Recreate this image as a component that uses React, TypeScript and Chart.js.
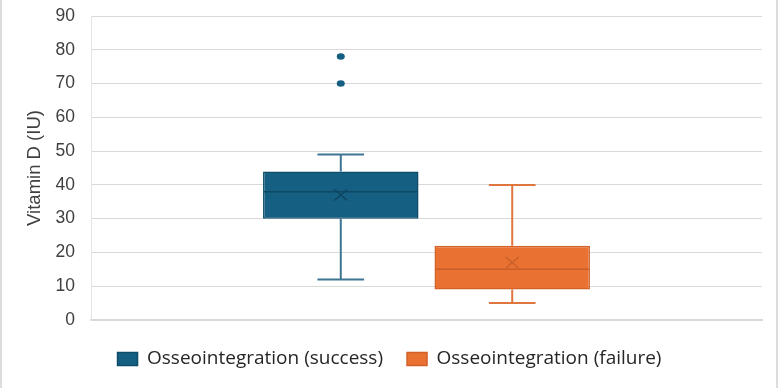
import React, { useEffect, useRef } from "react";
import { Chart, registerables } from "chart.js";

Chart.register(...registerables);

// ---- data ----
const categories = [""];
const seriesNames = ["Osseointegration (success)", "Osseointegration (failure)"];
const q1Values = [30, 9];
const q3Values = [44, 22];
const medianValues = [38, 15];
const meanValues = [37, 17];
const minValues = [12, 5];
const maxValues = [49, 40];
const outlierValues: number[][] = [[70, 78], []];
const yMin = 0;
const yMax = 90;
const yStep = 10;
const yTitle = "Vitamin D (IU)";

// ---- styles ----
const fillColors = ["#156082", "#E97132"];
const borderColors = ["#0f4c6a", "#d2622a"];
const whiskerColors = ["#3e7593", "#e0763f"];
const medianColors = ["#0e4863", "#c95e28"];
const meanColors = ["#0e4560", "#cc612b"];

const boxPlotPlugin = {
  id: "boxWhiskers",
  afterDatasetsDraw(chart: any) {
    const ctx = chart.ctx;
    const y = chart.scales.y;
    chart.data.datasets.forEach((_ds: any, i: number) => {
      const meta = chart.getDatasetMeta(i);
      const bar = meta.data[0];
      if (!bar) return;
      const { x, width } = bar.getProps(["x", "width"], true);
      const half = width / 2;
      const capHalf = width * 0.15;
      const pMax = y.getPixelForValue(maxValues[i]);
      const pMin = y.getPixelForValue(minValues[i]);
      const pQ1 = y.getPixelForValue(q1Values[i]);
      const pQ3 = y.getPixelForValue(q3Values[i]);
      const pMed = y.getPixelForValue(medianValues[i]);
      const pMean = y.getPixelForValue(meanValues[i]);
      ctx.save();
      // whiskers
      ctx.strokeStyle = whiskerColors[i];
      ctx.lineWidth = 2;
      ctx.beginPath();
      ctx.moveTo(x, pQ3);
      ctx.lineTo(x, pMax);
      ctx.moveTo(x, pQ1);
      ctx.lineTo(x, pMin);
      ctx.moveTo(x - capHalf, pMax);
      ctx.lineTo(x + capHalf, pMax);
      ctx.moveTo(x - capHalf, pMin);
      ctx.lineTo(x + capHalf, pMin);
      ctx.stroke();
      // median
      ctx.strokeStyle = medianColors[i];
      ctx.lineWidth = 1.5;
      ctx.beginPath();
      ctx.moveTo(x - half + 1, pMed);
      ctx.lineTo(x + half - 1, pMed);
      ctx.stroke();
      // mean marker (x)
      ctx.strokeStyle = meanColors[i];
      ctx.lineWidth = 1.5;
      const mx = 6.5;
      const my = 5.5;
      ctx.beginPath();
      ctx.moveTo(x - mx, pMean - my);
      ctx.lineTo(x + mx, pMean + my);
      ctx.moveTo(x + mx, pMean - my);
      ctx.lineTo(x - mx, pMean + my);
      ctx.stroke();
      // outliers
      ctx.fillStyle = fillColors[i];
      outlierValues[i].forEach((v) => {
        ctx.beginPath();
        ctx.ellipse(x, y.getPixelForValue(v), 4, 3.3, 0, 0, Math.PI * 2);
        ctx.fill();
      });
      ctx.restore();
    });
  },
};

const framePlugin = {
  id: "frameEdges",
  beforeDraw(chart: any) {
    const ctx = chart.ctx;
    ctx.save();
    ctx.fillStyle = "#ffffff";
    ctx.fillRect(0, 0, chart.width, chart.height);
    ctx.fillStyle = "#dcdcdc";
    ctx.fillRect(0, 0, 2, chart.height);
    ctx.fillRect(chart.width - 3, 0, 2, chart.height);
    ctx.restore();
  },
};

export default function App() {
  const canvasRef = useRef<HTMLCanvasElement | null>(null);

  useEffect(() => {
    if (!canvasRef.current) return;
    const chart = new Chart(canvasRef.current, {
      type: "bar",
      data: {
        labels: categories,
        datasets: seriesNames.map((name, i) => ({
          label: name,
          data: [[q1Values[i], q3Values[i]]] as any,
          backgroundColor: fillColors[i],
          borderColor: borderColors[i],
          borderWidth: 1.5,
          borderSkipped: false,
          categoryPercentage: 0.511,
          barPercentage: 0.907,
        })),
      },
      options: {
        responsive: false,
        animation: false,
        layout: { padding: { top: 16, right: 0, bottom: 9.5, left: 0 } },
        plugins: {
          legend: {
            position: "bottom",
            labels: {
              boxWidth: 20,
              boxHeight: 13,
              padding: 24,
              color: "#262626",
              font: { family: "'Open Sans'", size: 19 },
            },
          },
          tooltip: { enabled: false },
        },
        scales: {
          x: {
            grid: { display: false, drawTicks: false },
            ticks: { display: false },
            border: { display: true, color: "#d9d9d9", width: 2 },
            afterFit: (s: any) => {
              s.height = 5.5;
            },
          },
          y: {
            min: yMin,
            max: yMax,
            ticks: {
              stepSize: yStep,
              padding: 16,
              color: "#404040",
              font: { family: "'Liberation Sans'", size: 17.5 },
            },
            grid: { color: "#d9d9d9", drawTicks: false, lineWidth: 1 },
            border: { display: true, color: "#e3e3e3", width: 1 },
            title: {
              display: true,
              text: yTitle,
              color: "#404040",
              font: { family: "'Liberation Sans'", size: 18.5 },
              padding: { top: 24, bottom: 0 },
            },
            afterFit: (s: any) => {
              s.width = 91;
              s.paddingTop = 0;
              s.paddingBottom = 0;
            },
          },
          y2: {
            type: "linear",
            position: "right",
            display: true,
            grid: { display: false, drawTicks: false },
            ticks: { display: false },
            border: { display: false },
            afterFit: (s: any) => {
              s.width = 17;
              s.paddingTop = 0;
              s.paddingBottom = 0;
            },
          },
        },
      } as any,
      plugins: [framePlugin, boxPlotPlugin],
    });
    return () => chart.destroy();
  }, []);

  return (
    <div style={{ position: "absolute", left: 0, top: 0, width: 779, height: 388 }}>
      <canvas
        ref={canvasRef}
        width={779}
        height={388}
        style={{ display: "block", width: 779, height: 388 }}
      />
    </div>
  );
}
